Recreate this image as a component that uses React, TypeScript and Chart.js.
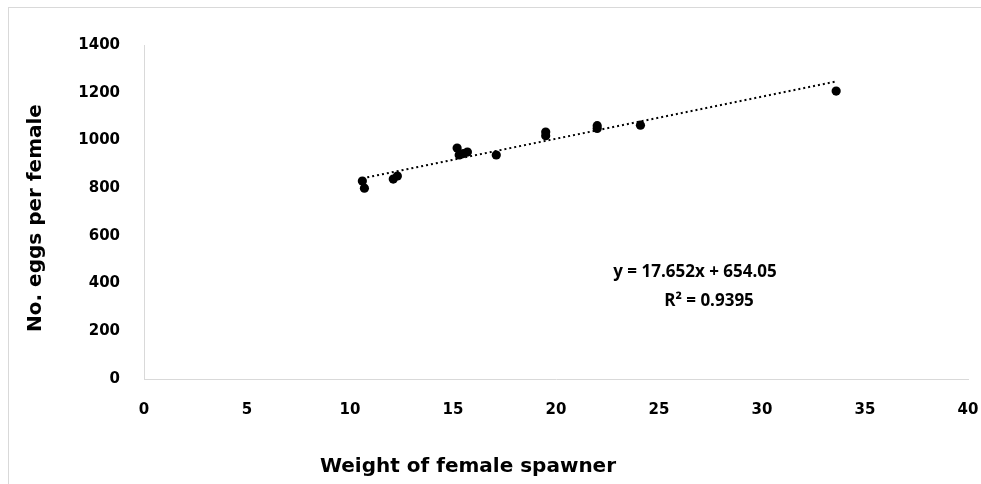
import React, { useEffect, useRef } from "react";
import { Chart, registerables } from "chart.js";

Chart.register(...registerables);

// ---- Data ----
const weights = [10.6, 10.7, 12.1, 12.3, 15.2, 15.3, 15.5, 15.7, 17.1, 19.5, 19.5, 22.0, 22.0, 24.1, 33.6];
const eggs = [830, 800, 838, 851, 968, 939, 945, 951, 939, 1020, 1035, 1050, 1062, 1064, 1207];
const trendSlope = 17.652;
const trendIntercept = 654.05;
const equationText = "y = 17.652x + 654.05";
const r2Text = "R² = 0.9395";
const xTitle = "Weight of female spawner";
const yTitle = "No. eggs per female";
const xTicks = { min: 0, max: 40, step: 5 };
const yTicks = { min: 0, max: 1400, step: 200 };

const BORDER = "#d9d9d9";

const decorPlugin = {
  id: "decor",
  beforeDraw(chart: any) {
    const ctx = chart.ctx;
    ctx.save();
    ctx.strokeStyle = BORDER;
    ctx.lineWidth = 1;
    ctx.strokeRect(8.5, 7.5, chart.width + 20, chart.height + 20);
    ctx.restore();
  },
  afterDraw(chart: any) {
    const ctx = chart.ctx;
    ctx.save();
    ctx.fillStyle = "#000";
    // y title
    ctx.save();
    ctx.translate(36, 218);
    ctx.rotate(-Math.PI / 2);
    ctx.font = "bold 20px 'DejaVu Sans'";
    ctx.textAlign = "center";
    ctx.textBaseline = "middle";
    ctx.fillText(yTitle, 0, 0);
    ctx.restore();
    // x title
    ctx.font = "bold 20px 'DejaVu Sans'";
    ctx.textAlign = "center";
    ctx.textBaseline = "middle";
    ctx.fillText(xTitle, 468, 467);
    // equation
    ctx.font = "bold 17px 'Open Sans'";
    ctx.textBaseline = "alphabetic";
    ctx.fillText(equationText, 695, 277);
    ctx.fillText(r2Text, 709, 306);
    ctx.restore();
  },
};

export default function App() {
  const ref = useRef<HTMLCanvasElement | null>(null);

  useEffect(() => {
    if (!ref.current) return;
    const xMin = Math.min(...weights);
    const xMax = Math.max(...weights);
    const chart = new Chart(ref.current, {
      type: "scatter",
      data: {
        datasets: [
          {
            label: "Eggs",
            data: weights.map((w, i) => ({ x: w, y: eggs[i] })),
            backgroundColor: "#000",
            borderColor: "#000",
            borderWidth: 0,
            pointRadius: 4.6,
            pointHoverRadius: 4.6,
          },
          {
            label: "Trend",
            type: "line",
            data: [
              { x: xMin, y: trendSlope * xMin + trendIntercept },
              { x: xMax, y: trendSlope * xMax + trendIntercept },
            ],
            borderColor: "#000",
            borderWidth: 2,
            borderDash: [2, 3],
            pointRadius: 0,
            fill: false,
          } as any,
        ],
      },
      options: {
        responsive: false,
        animation: false,
        layout: { padding: { top: 45, right: 13, bottom: 0, left: 0 } },
        plugins: {
          legend: { display: false },
          tooltip: { enabled: false },
        },
        scales: {
          x: {
            type: "linear",
            min: xTicks.min,
            max: xTicks.max,
            ticks: {
              stepSize: xTicks.step,
              padding: 22,
              color: "#000",
              font: { family: "'DejaVu Sans'", size: 15, weight: "bold" },
              callback: (v: any) => String(v),
            },
            grid: { display: false, drawTicks: false },
            border: { display: true, color: BORDER, width: 1 },
            afterFit: (s: any) => {
              s.height = 105;
              s.paddingLeft = 0;
              s.paddingRight = 0;
            },
          },
          y: {
            type: "linear",
            min: yTicks.min,
            max: yTicks.max,
            ticks: {
              stepSize: yTicks.step,
              padding: 24,
              color: "#000",
              font: { family: "'DejaVu Sans'", size: 15, weight: "bold" },
              callback: (v: any) => String(v),
            },
            grid: { display: false, drawTicks: false },
            border: { display: true, color: BORDER, width: 1 },
            afterFit: (s: any) => {
              s.width = 144;
              s.paddingTop = 0;
              s.paddingBottom = 0;
            },
          },
        },
      },
      plugins: [decorPlugin],
    });
    return () => chart.destroy();
  }, []);

  return (
    <div style={{ position: "fixed", left: 0, top: 0, width: 981, height: 484, background: "#fff" }}>
      <canvas ref={ref} width={981} height={484} style={{ display: "block" }} />
    </div>
  );
}
